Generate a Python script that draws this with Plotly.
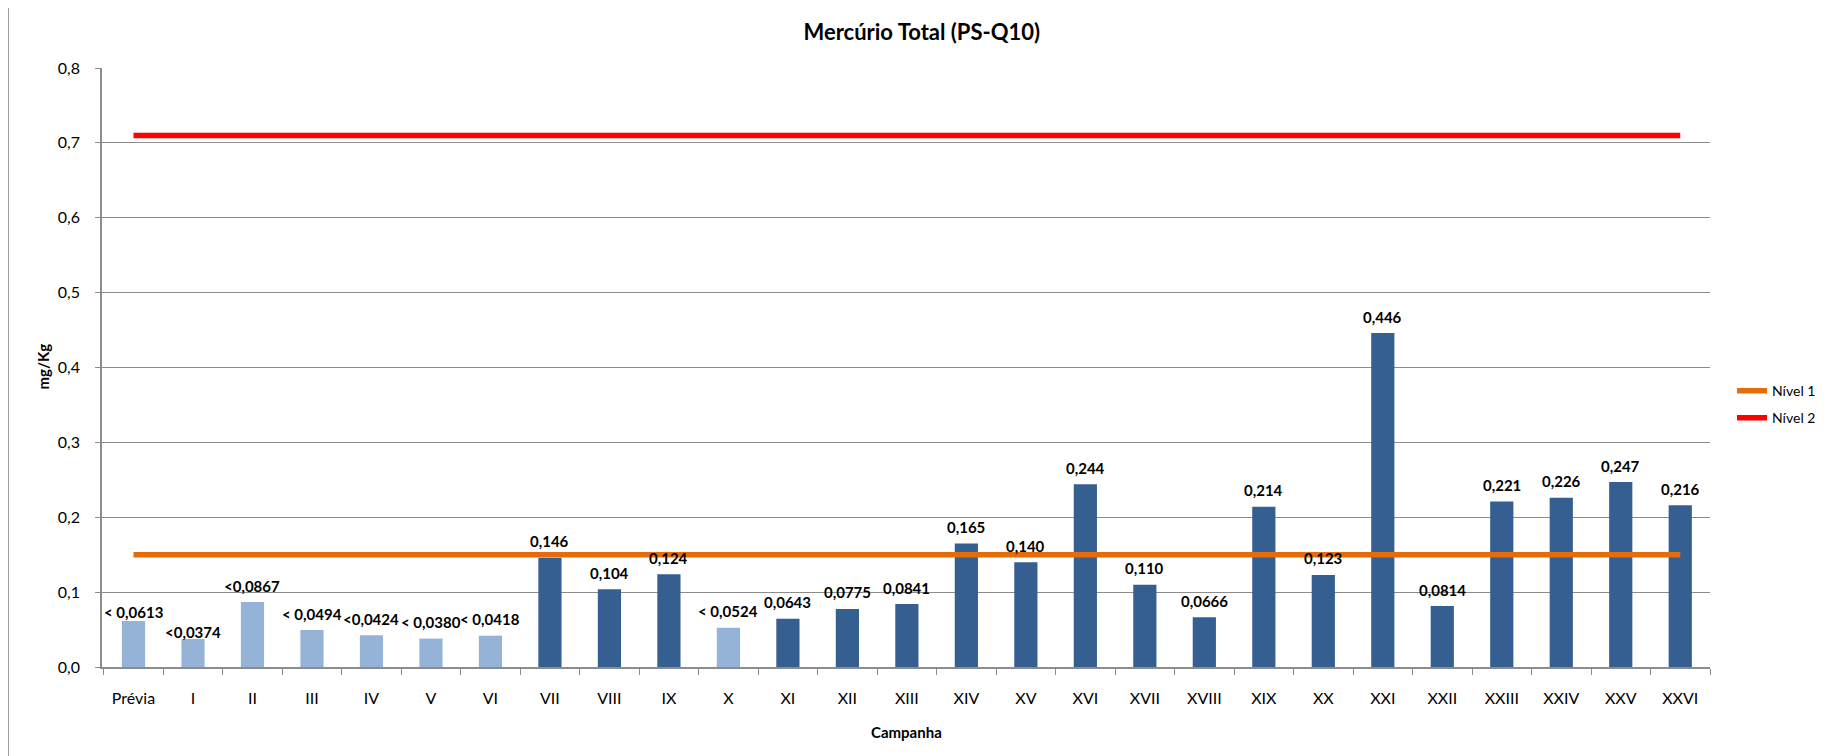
import plotly.graph_objects as go

# Dados
campanhas = ["Prévia", "I", "II", "III", "IV", "V", "VI", "VII", "VIII", "IX", "X",
             "XI", "XII", "XIII", "XIV", "XV", "XVI", "XVII", "XVIII", "XIX", "XX",
             "XXI", "XXII", "XXIII", "XXIV", "XXV", "XXVI"]
valores = [0.0613, 0.0374, 0.0867, 0.0494, 0.0424, 0.0380, 0.0418, 0.146, 0.104, 0.124,
           0.0524, 0.0643, 0.0775, 0.0841, 0.165, 0.140, 0.244, 0.110, 0.0666, 0.214,
           0.123, 0.446, 0.0814, 0.221, 0.226, 0.247, 0.216]
rotulos = ["< 0,0613", "<0,0374", "<0,0867", "< 0,0494", "<0,0424", "< 0,0380", "< 0,0418",
           "0,146", "0,104", "0,124", "< 0,0524", "0,0643", "0,0775", "0,0841", "0,165",
           "0,140", "0,244", "0,110", "0,0666", "0,214", "0,123", "0,446", "0,0814",
           "0,221", "0,226", "0,247", "0,216"]
# abaixo do limite de quantificacao (barras claras)
abaixo_lq = [True, True, True, True, True, True, True, False, False, False, True,
             False, False, False, False, False, False, False, False, False, False,
             False, False, False, False, False, False]
nivel_1 = 0.15
nivel_2 = 0.71

COR_ESCURA = "#365F91"
COR_CLARA = "#95B3D7"
FONTE = "Lato, 'Liberation Sans', sans-serif"

cores = [COR_CLARA if f else COR_ESCURA for f in abaixo_lq]

fig = go.Figure()

fig.add_trace(go.Bar(
    x=campanhas, y=valores, marker=dict(color=cores, line=dict(width=0)),
    showlegend=False, hoverinfo="x+y",
))

fig.add_trace(go.Scatter(
    x=campanhas, y=[nivel_1] * len(campanhas), mode="lines", name="Nível 1",
    line=dict(color="#E46C0A", width=5.5), legend="legend",
))
fig.add_trace(go.Scatter(
    x=campanhas, y=[nivel_2] * len(campanhas), mode="lines", name="Nível 2",
    line=dict(color="#FF0000", width=5.5), legend="legend2",
))

# rotulos das barras
deslocamento = {"Prévia": 9, "I": 7}
for c, v, r in zip(campanhas, valores, rotulos):
    fig.add_annotation(
        x=c, y=v, text=r, showarrow=False, xanchor="center", yanchor="middle",
        yshift=deslocamento.get(c, 16.5),
        font=dict(family=FONTE, size=15, color="black", weight="bold"),
    )

# titulos dos eixos
fig.add_annotation(
    xref="paper", yref="paper", x=0.5006, y=-0.109, text="<b>Campanha</b>",
    xanchor="center", yanchor="middle",
    showarrow=False, font=dict(family=FONTE, size=15, color="black"),
)
fig.add_annotation(
    xref="paper", yref="paper", x=-0.0366, y=0.502, text="<b>mg/Kg</b>", textangle=-90,
    xanchor="center", yanchor="middle",
    showarrow=False, font=dict(family=FONTE, size=15, color="black"),
)

# borda externa
fig.add_shape(type="rect", xref="paper", yref="paper",
              x0=-0.0584, x1=1.0733, y0=-0.2, y1=1.1064,
              line=dict(color="#8C8C8C", width=1.5), layer="below")

leg = dict(xanchor="left", yanchor="middle", font=dict(family=FONTE, size=14),
           bgcolor="rgba(0,0,0,0)", itemwidth=30)

fig.update_layout(
    width=1825, height=748,
    margin=dict(l=94, r=121, t=60, b=89),
    paper_bgcolor="white", plot_bgcolor="white",
    separators=",.",
    bargap=0.61,
    font=dict(family=FONTE, size=13, color="black"),
    title=dict(text="<b>Mercúrio Total (PS-Q10)</b>", x=0.5007, xanchor="center",
               y=0.968, yanchor="middle", font=dict(family=FONTE, size=22, color="black")),
    xaxis=dict(
        showline=True, linecolor="#8C8C8C", linewidth=1.5,
        ticks="outside", tickson="boundaries", ticklen=6, tickcolor="#8C8C8C",
        showgrid=False, tickfont=dict(size=16), ticklabelstandoff=16,
    ),
    yaxis=dict(
        range=[0, 0.8], dtick=0.1, tickformat=".1f",
        showline=True, linecolor="#8C8C8C", linewidth=1.5,
        ticks="outside", ticklen=5, tickcolor="#8C8C8C",
        showgrid=True, gridcolor="#8C8C8C", gridwidth=1,
        zeroline=False, tickfont=dict(size=16), ticklabelstandoff=12,
    ),
    legend=dict(x=1.0137, y=0.4605, **leg),
    legend2=dict(x=1.0137, y=0.4154, **leg),
)

fig.write_html("out.html")
